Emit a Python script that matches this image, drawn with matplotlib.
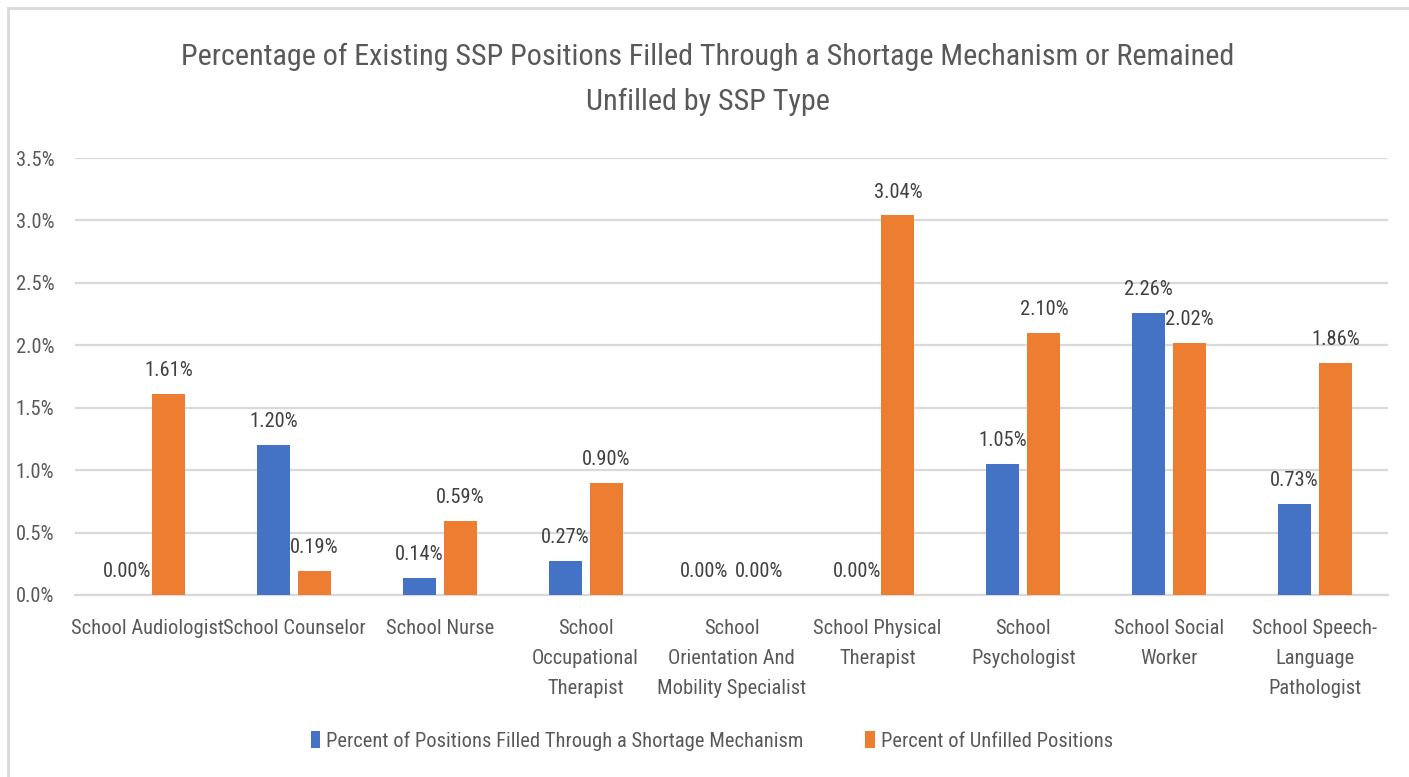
import matplotlib
matplotlib.use('Agg')
import matplotlib.pyplot as plt
import numpy as np
from matplotlib.patches import Rectangle

plt.rcParams['font.family'] = ['Roboto Condensed', 'DejaVu Sans']
plt.rcParams['font.stretch'] = 'condensed'

# Chart data (percent)
categories = ['School Audiologist', 'School Counselor', 'School Nurse',
              'School\nOccupational\nTherapist',
              'School\nOrientation And\nMobility Specialist',
              'School Physical\nTherapist', 'School\nPsychologist',
              'School Social\nWorker', 'School Speech-\nLanguage\nPathologist']
filled_shortage = [0.00, 1.20, 0.14, 0.27, 0.00, 0.00, 1.05, 2.26, 0.73]
unfilled = [1.61, 0.19, 0.59, 0.90, 0.00, 3.04, 2.10, 2.02, 1.86]
series_names = ['Percent of Positions Filled Through a Shortage Mechanism',
                'Percent of Unfilled Positions']
yticks = [0.0, 0.5, 1.0, 1.5, 2.0, 2.5, 3.0, 3.5]

blue = '#4472C4'
orange = '#ED7D31'
text_col = '#595959'
grid_col = '#D9D9D9'
fs = 14.8

W, H = 1409, 777
fig = plt.figure(figsize=(W / 100, H / 100), dpi=100)

# outer chart frame (only top / left visible)
fig.patches.append(Rectangle((8 / W, -0.1), 1.2, 1 - 8 / H + 0.1, transform=fig.transFigure,
                             fill=False, edgecolor=grid_col, linewidth=2))

ax = fig.add_axes([75 / W, 1 - 595 / H, (1388 - 75) / W, (595 - 158) / H])

x = np.arange(len(categories))
bw = 0.226
off = bw / 2 + 0.028
b1 = ax.bar(x - off, filled_shortage, bw, color=blue, label=series_names[0], zorder=3)
b2 = ax.bar(x + off, unfilled, bw, color=orange, label=series_names[1], zorder=3)

for side, bars, vals in ((-1, b1, filled_shortage), (1, b2, unfilled)):
    for i, (rect, v) in enumerate(zip(bars, vals)):
        # push apart labels when both bars of a group are zero
        dx = 5 * side if filled_shortage[i] == 0 and unfilled[i] == 0 else 0
        ax.annotate('%.2f%%' % v, (rect.get_x() + rect.get_width() / 2, v),
                    xytext=(dx, 10), textcoords='offset points', ha='center', va='bottom',
                    fontsize=fs, color='#404040', zorder=4)

ax.set_xlim(-0.5, len(categories) - 0.5)
ax.set_ylim(0, 3.5)
ax.set_yticks(yticks)
ax.set_yticklabels(['%.1f%%' % t for t in yticks])
ax.yaxis.grid(True, color=grid_col, linewidth=1.6, zorder=0)
ax.set_xticks(x)
ax.set_xticklabels(categories, linespacing=1.75, va='top')
ax.tick_params(axis='both', length=0, labelsize=fs, colors=text_col)
ax.tick_params(axis='x', pad=17)
ax.tick_params(axis='y', pad=15)
for s in ('left', 'right', 'top'):
    ax.spines[s].set_visible(False)
ax.spines['bottom'].set_color(grid_col)
ax.spines['bottom'].set_linewidth(1.6)

fig.text(708 / W, 1 - 57 / H, 'Percentage of Existing SSP Positions Filled Through a Shortage Mechanism or Remained',
         ha='center', va='center', fontsize=21.7, color=text_col)
fig.text(708 / W, 1 - 102 / H, 'Unfilled by SSP Type',
         ha='center', va='center', fontsize=21.7, color=text_col)

fig.legend(loc='center', bbox_to_anchor=(712 / W, 1 - 741 / H), ncol=2, frameon=False,
           fontsize=fs, labelcolor=text_col, handlelength=0.45, handleheight=0.9,
           handletextpad=0.3, columnspacing=3.0)

fig.savefig('out.png', dpi=100, facecolor='white')
